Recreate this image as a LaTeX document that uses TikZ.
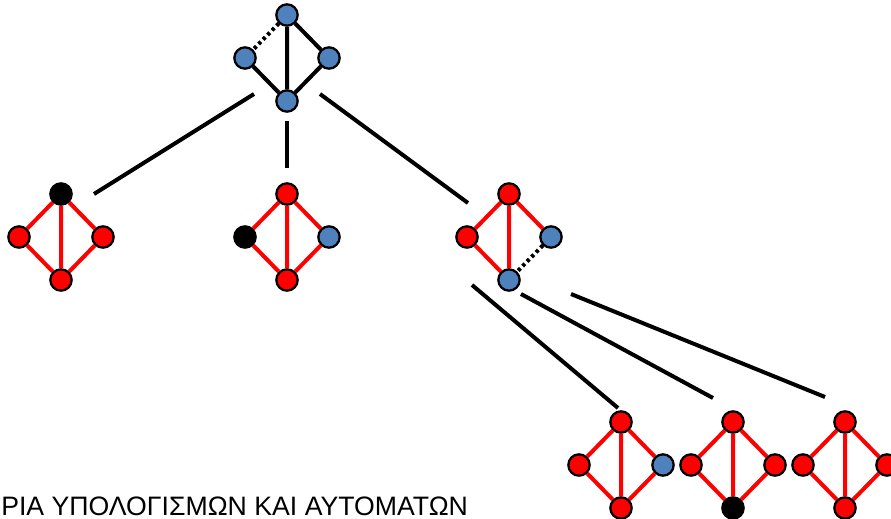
\documentclass[tikz,border=0pt]{standalone}
\usepackage{fontspec}
\setmainfont{Liberation Sans}

\definecolor{vblue}{RGB}{79,129,189}
\definecolor{vred}{RGB}{255,0,0}

\tikzset{
  vtx/.style={circle, draw=black, line width=1.7pt, minimum size=16pt, inner sep=0pt},
  redge/.style={draw=vred, line width=3pt},
  bedge/.style={draw=black, line width=3pt},
  dedge/.style={draw=black, line width=3pt, dash pattern=on 2.4pt off 2.4pt},
  link/.style={draw=black, line width=3pt}
}

% four vertices of a diamond: name, centre x, centre y, fills top/left/right/bottom
\newcommand{\dmnodes}[7]{%
  \node[vtx, fill=#4] (#1t) at (#2,#3-43) {};
  \node[vtx, fill=#5] (#1l) at (#2-42,#3) {};
  \node[vtx, fill=#6] (#1r) at (#2+42,#3) {};
  \node[vtx, fill=#7] (#1b) at (#2,#3+43) {};
}

\begin{document}
\begin{tikzpicture}[x=0.75pt,y=0.75pt,yscale=-1,xscale=1]
\clip (0,0) rectangle (891,518);

%Root graph
\dmnodes{r}{287}{58}{vblue}{vblue}{vblue}{vblue}
\draw[dedge] (rt) -- (rl);
\draw[bedge] (rt) -- (rr) (rt) -- (rb) (rl) -- (rb) (rr) -- (rb);

%Second level
\dmnodes{a}{61}{237}{black}{vred}{vred}{vred}
\dmnodes{b}{287}{237}{vred}{black}{vblue}{vred}
\dmnodes{c}{509}{237}{vred}{vred}{vblue}{vblue}
\foreach \g in {a,b}
  \draw[redge] (\g t) -- (\g l) (\g t) -- (\g r) (\g t) -- (\g b) (\g l) -- (\g b) (\g r) -- (\g b);
\draw[redge] (ct) -- (cl) (ct) -- (cr) (ct) -- (cb) (cl) -- (cb);
\draw[dedge] (cr) -- (cb);

%Third level
\dmnodes{d}{621}{465}{vred}{vred}{vblue}{vred}
\dmnodes{e}{733}{465}{vred}{vred}{vred}{black}
\dmnodes{f}{845}{465}{vred}{vred}{vred}{vred}
\foreach \g in {d,e,f}
  \draw[redge] (\g t) -- (\g l) (\g t) -- (\g r) (\g t) -- (\g b) (\g l) -- (\g b) (\g r) -- (\g b);

%Tree links
\coordinate (ra1) at (254,94);  \coordinate (ra2) at (94,194);
\coordinate (rb1) at (287,121); \coordinate (rb2) at (287,168);
\coordinate (rc1) at (320,94);  \coordinate (rc2) at (468,203);
\coordinate (cd1) at (472,285); \coordinate (cd2) at (618,408);
\coordinate (ce1) at (521,294); \coordinate (ce2) at (713,398);
\coordinate (cf1) at (571,294); \coordinate (cf2) at (825,397);
\foreach \s in {ra,rb,rc,cd,ce,cf}
  \draw[link] (\s1) -- (\s2);

% Text Node
\node[anchor=base west, inner sep=0pt, font=\fontsize{20}{24}\selectfont] (title) at (1,515) {ΡΙΑ ΥΠΟΛΟΓΙΣΜΩΝ ΚΑΙ ΑΥΤΟΜΑΤΩΝ};

\end{tikzpicture}
\end{document}
